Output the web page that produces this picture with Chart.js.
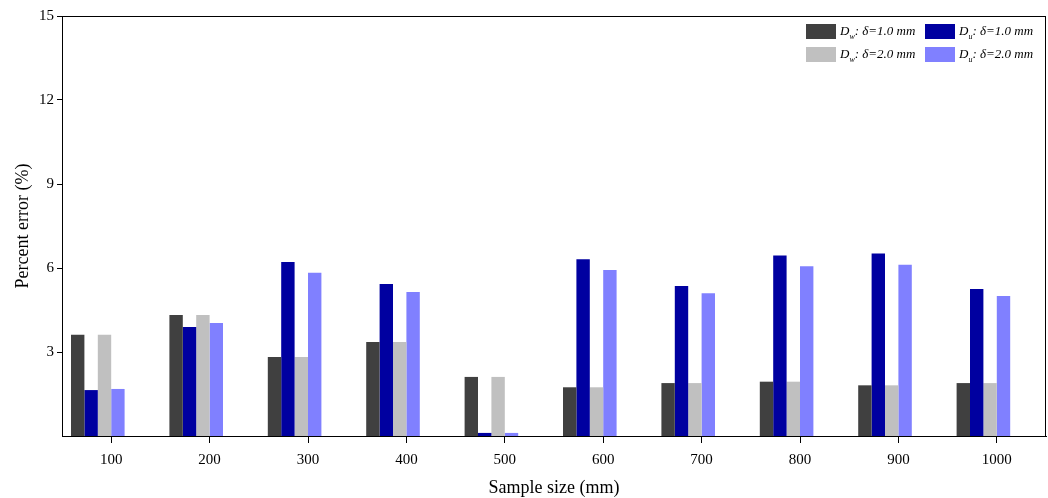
<!DOCTYPE html>
<html>
<head>
<meta charset="utf-8">
<script src="https://cdn.jsdelivr.net/npm/chart.js@4.4.1/dist/chart.umd.min.js"></script>
<style>
  html, body { margin: 0; padding: 0; background: #fff; }
  #wrap { width: 1048px; height: 498px; position: relative; }
</style>
</head>
<body>
<div id="wrap"><canvas id="c"></canvas></div>
<script>
// Sample sizes (mm) along the x axis
const sampleSizes = ['100', '200', '300', '400', '500', '600', '700', '800', '900', '1000'];

// Percent error for each estimator and grid spacing
const dw10 = [3.62, 4.32, 2.82, 3.36, 2.11, 1.74, 1.89, 1.94, 1.81, 1.89];
const du10 = [1.64, 3.89, 6.21, 5.43, 0.11, 6.31, 5.36, 6.45, 6.52, 5.25];
const dw20 = [3.62, 4.32, 2.82, 3.36, 2.11, 1.74, 1.89, 1.94, 1.81, 1.89];
const du20 = [1.68, 4.04, 5.83, 5.14, 0.11, 5.93, 5.10, 6.06, 6.12, 5.00];

// Series names; "_x" marks a subscript letter
const seriesNames = ['D_w: δ=1.0 mm', 'D_u: δ=1.0 mm', 'D_w: δ=2.0 mm', 'D_u: δ=2.0 mm'];
const seriesColors = ['#404040', '#0000a0', '#c0c0c0', '#8080ff'];

// y axis ticks
const yTicks = [3, 6, 9, 12, 15];

const serif = '"Liberation Serif", "Times New Roman", serif';

// Draws one name with its subscript
function drawName(ctx, text, x, y) {
  const m = text.match(/^(.*?)_(.)(.*)$/);
  ctx.textBaseline = 'middle';
  ctx.textAlign = 'left';
  ctx.font = 'italic 13px ' + serif;
  if (!m) { ctx.fillText(text, x, y); return; }
  ctx.fillText(m[1], x, y);
  x += ctx.measureText(m[1]).width;
  ctx.font = 'italic 8px ' + serif;
  ctx.fillText(m[2], x, y + 5);
  x += ctx.measureText(m[2]).width;
  ctx.font = 'italic 13px ' + serif;
  ctx.fillText(m[3], x, y);
}

// Plot frame and two-column legend in the top-right corner
const framePlugin = {
  id: 'frameAndLegend',
  afterDraw(chart) {
    const ctx = chart.ctx;
    const a = chart.chartArea;
    ctx.save();
    ctx.strokeStyle = '#000';
    ctx.lineWidth = 1;
    ctx.strokeRect(Math.round(a.left) + 0.5, Math.round(a.top) + 0.5,
                   Math.round(a.right - a.left) - 1, Math.round(a.bottom - a.top));
    const cols = [a.right - 240, a.right - 121];
    const rows = [a.top + 8, a.top + 31];
    chart.data.datasets.forEach((ds, i) => {
      if (i >= seriesNames.length) return;
      const x = cols[i % 2];
      const y = rows[Math.floor(i / 2)];
      ctx.fillStyle = ds.backgroundColor;
      ctx.fillRect(x, y, 30, 15);
      ctx.fillStyle = '#000';
      drawName(ctx, ds.label, x + 34, y + 8);
    });
    ctx.restore();
  }
};

// Four visible series plus two empty slots so each group sits left of its tick
const datasets = [dw10, du10, dw20, du20].map((vals, i) => ({
  label: seriesNames[i],
  data: vals,
  backgroundColor: seriesColors[i],
  borderWidth: 0
}));
datasets.push({ label: '', data: [], backgroundColor: 'rgba(0,0,0,0)' });
datasets.push({ label: '', data: [], backgroundColor: 'rgba(0,0,0,0)' });

new Chart(document.getElementById('c'), {
  type: 'bar',
  data: { labels: sampleSizes, datasets },
  plugins: [framePlugin],
  options: {
    responsive: true,
    maintainAspectRatio: false,
    animation: false,
    devicePixelRatio: 1,
    layout: { padding: { top: 16, right: 2, left: 0, bottom: 0 } },
    plugins: { legend: { display: false }, tooltip: { enabled: false } },
    datasets: { bar: { barPercentage: 1.0, categoryPercentage: 0.817 } },
    scales: {
      x: {
        offset: true,
        grid: { display: true, offset: false, drawOnChartArea: false, drawTicks: true, tickLength: 7, color: '#000' },
        border: { display: true, color: '#000', width: 1 },
        ticks: { color: '#000', font: { family: serif, size: 15 }, padding: 8, maxRotation: 0 },
        title: { display: true, text: 'Sample size (mm)', color: '#000', font: { family: serif, size: 18 }, padding: { top: 4, bottom: -1 } },
        afterFit(scale) { scale.height = 62; }
      },
      y: {
        min: 0,
        max: 15,
        afterBuildTicks(scale) { scale.ticks = yTicks.map(v => ({ value: v })); },
        grid: { display: true, drawOnChartArea: false, drawTicks: true, tickLength: 5, color: '#000' },
        border: { display: true, color: '#000', width: 1 },
        ticks: { color: '#000', font: { family: serif, size: 15 }, padding: 3 },
        title: { display: true, text: 'Percent error (%)', color: '#000', font: { family: serif, size: 18 }, padding: { top: 12, bottom: 2 } },
        afterFit(scale) { scale.width = 62; }
      }
    }
  }
});
</script>
</body>
</html>
